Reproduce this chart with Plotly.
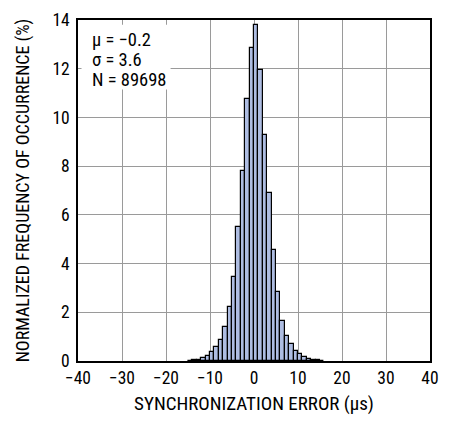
import plotly.graph_objects as go

# bin left edges (µs), bin width 1 µs
bin_left = list(range(-15, 16))
freq_pct = [0.02, 0.03, 0.06, 0.12, 0.20, 0.35, 0.57, 0.85, 1.39, 2.23, 3.46, 5.51,
            7.81, 10.75, 12.87, 13.78, 11.95, 9.29, 6.90, 4.57, 2.85, 1.66, 1.03,
            0.68, 0.41, 0.28, 0.17, 0.10, 0.06, 0.04, 0.02]
stats_lines = ["μ = −0.2", "σ = 3.6", "N = 89698"]
x_ticks = [-40, -30, -20, -10, 0, 10, 20, 30, 40]
x_ticklabels = ["−40", "−30", "−20", "−10", "0", "10", "20", "30", "40"]
y_ticks = [0, 2, 4, 6, 8, 10, 12, 14]

FONT = "Roboto Condensed, DejaVu Sans Condensed, Liberation Sans"

fig = go.Figure()
fig.add_trace(go.Bar(
    x=[b + 0.5 for b in bin_left],
    y=freq_pct,
    width=1,
    marker=dict(color="#aebde2", line=dict(color="black", width=1.2)),
))

fig.update_layout(
    width=450, height=421,
    margin=dict(l=78, r=20, t=10, b=59),
    paper_bgcolor="white", plot_bgcolor="white",
    showlegend=False,
    font=dict(family=FONT, size=17, color="black"),
    bargap=0,
)
fig.update_xaxes(
    range=[-40, 40], tickvals=x_ticks, ticktext=x_ticklabels,
    showgrid=True, gridcolor="#9a9a9a", gridwidth=1,
    showline=True, linecolor="black", linewidth=1.5, mirror=True,
    ticks="", zeroline=False,
    title=dict(text="SYNCHRONIZATION ERROR (μs)", font=dict(size=19), standoff=10),
    tickfont=dict(size=17.5),
)
fig.update_yaxes(
    range=[0, 14], tickvals=y_ticks,
    showgrid=True, gridcolor="#9a9a9a", gridwidth=1,
    showline=True, linecolor="black", linewidth=1.5, mirror=True,
    ticks="", zeroline=False, ticklabelstandoff=3,
    title=dict(text="NORMALIZED FREQUENCY OF OCCURRENCE (%)", font=dict(size=18), standoff=18),
    tickfont=dict(size=17.5),
)
# white box behind the statistics text (hides grid lines)
fig.add_shape(
    type="rect", xref="paper", yref="paper",
    x0=0.010, x1=0.263, y0=0.796, y1=0.986,
    fillcolor="white", line=dict(width=0), layer="above",
)
for line_text, ypos in zip(stats_lines, [0.9418, 0.8835, 0.8253]):
    fig.add_annotation(
        xref="paper", yref="paper", x=0.033, y=ypos,
        xanchor="left", yanchor="middle", align="left",
        text=line_text, showarrow=False,
        font=dict(family=FONT, size=18.5, color="black"),
    )
fig.write_html(
    "out.html",
    config={"displayModeBar": False},
    post_script="document.body.style.margin='0';document.body.style.overflow='hidden';",
)
